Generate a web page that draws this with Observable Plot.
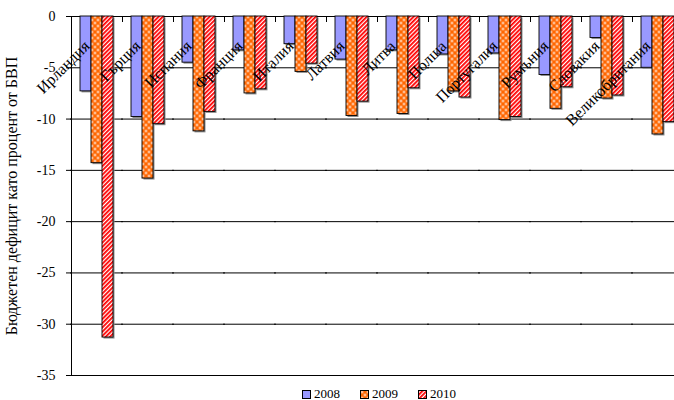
<!DOCTYPE html>
<html>
<head>
<meta charset="utf-8">
<script src="https://cdn.jsdelivr.net/npm/d3@7"></script>
<script src="https://cdn.jsdelivr.net/npm/@observablehq/plot@0.6"></script>
<style>
  html, body { margin: 0; padding: 0; background: #fff; overflow: hidden; }
  #wrap { position: relative; width: 674px; height: 400px; overflow: hidden;
          font-family: "Liberation Serif", "Times New Roman", serif; }
  #chart svg { max-width: none !important; display: block; }
  #legend { position: absolute; left: 302px; top: 387px; display: flex; align-items: center;
            font-size: 13px; line-height: 14px; color: #000; white-space: nowrap; }
  #legend .item { display: flex; align-items: center; margin-right: 20px; }
  #legend svg { margin-right: 3px; display: block; }
</style>
</head>
<body>
<svg width="0" height="0" style="position:absolute">
  <defs>
    <!-- orange check: small white squares on orange (tile origin on the pixel grid of the bar layer) -->
    <pattern id="chk" x="0.5" y="0.5" width="6" height="6" patternUnits="userSpaceOnUse">
      <rect width="6" height="6" fill="#ff6600"/>
      <rect x="0.5" y="0.5" width="2" height="2" fill="#ffffff"/>
      <rect x="3.5" y="3.5" width="2" height="2" fill="#ffffff"/>
    </pattern>
    <!-- red/white diagonal stripes -->
    <pattern id="diag" width="3" height="3" patternUnits="userSpaceOnUse" patternTransform="rotate(45)">
      <rect width="3" height="3" fill="#ffffff"/>
      <rect width="1.8" height="3" fill="#ff0000"/>
    </pattern>
  </defs>
</svg>
<div id="wrap">
  <div id="chart"></div>
  <div id="legend"></div>
</div>
<script>
const countries = ["Ирландия", "Гърция", "Испания", "Франция", "Италия", "Латвия",
                   "Литва", "Полша", "Португалия", "Румъния", "Словакия", "Великобритания"];
const years = ["2008", "2009", "2010"];
const deficit2008 = [-7.3, -9.8, -4.5, -3.3, -2.7, -4.2, -3.3, -3.7, -3.6, -5.7, -2.1, -5.0];
const deficit2009 = [-14.3, -15.8, -11.2, -7.5, -5.4, -9.7, -9.5, -7.3, -10.1, -9.0, -8.0, -11.5];
const deficit2010 = [-31.3, -10.5, -9.3, -7.1, -4.6, -8.3, -7.0, -7.9, -9.8, -6.9, -7.7, -10.3];
const yTicks = [0, -5, -10, -15, -20, -25, -30, -35];
const yTitle = "Бюджетен дефицит като процент от БВП";
const yearFills = ["#9999ff", "url(#chk)", "url(#diag)"];

const series = [deficit2008, deficit2009, deficit2010];
const rows = countries.flatMap((country, i) =>
  years.map((year, j) => ({country, year, value: series[j][i]})));

const font = "'Liberation Serif', 'Times New Roman', serif";

const chart = Plot.plot({
  width: 683,
  height: 380,
  marginLeft: 71,
  marginRight: 0,
  marginTop: 16,
  marginBottom: 5,
  style: {fontFamily: font, fontSize: "14px", color: "#000", background: "transparent",
          overflow: "visible", maxWidth: "none"},
  fx: {domain: countries, padding: 0, axis: null},
  x: {domain: years, paddingInner: 0, paddingOuter: 0.75, axis: null},
  y: {domain: [-35, 0]},
  color: {domain: years, range: yearFills},
  marks: [
    // horizontal gridlines, continuous across the category groups
    Plot.ruleY(yTicks, {stroke: "#000", strokeWidth: 1, insetLeft: -1, insetRight: -1}),
    // small shadow behind each bar
    Plot.barY(rows, {fx: "country", x: "year", y: "value", fill: "#8c8c8c", dx: 1.5, dy: 1.5}),
    Plot.barY(rows, {fx: "country", x: "year", y: "value", fill: "year", stroke: "#000", strokeWidth: 0.9}),
    // category separators hanging from the zero line
    Plot.frame({anchor: "left", insetBottom: 354, stroke: "#000"}),
    // vertical value axis line
    Plot.frame({anchor: "left", facetAnchor: "left", stroke: "#000"}),
    Plot.axisY({
      ticks: yTicks,
      tickSize: 5,
      tickPadding: 11,
      tickFormat: d => String(d),
      fontSize: 14,
      label: null
    }),
    Plot.axisY({
      ticks: [],
      tickSize: 0,
      fontSize: 16,
      label: yTitle,
      labelAnchor: "center",
      labelArrow: "none",
      labelOffset: 66
    }),
    // rotated category names along the zero line
    Plot.text(countries, {
      fx: d => d,
      y: () => 0,
      text: d => d,
      rotate: -45,
      textAnchor: "end",
      fontSize: 16,
      dx: -10,
      dy: 27,
      fill: "#000"
    })
  ]
});
document.getElementById("chart").appendChild(chart);

// legend below the chart
const legend = d3.select("#legend");
years.forEach((year, j) => {
  const item = legend.append("div").attr("class", "item");
  const sw = item.append("svg").attr("width", 9).attr("height", 9);
  sw.append("rect").attr("x", 0.5).attr("y", 0.5).attr("width", 8).attr("height", 8)
    .attr("fill", yearFills[j]).attr("stroke", "#000").attr("stroke-width", 1);
  item.append("span").text(year);
});
</script>
</body>
</html>
